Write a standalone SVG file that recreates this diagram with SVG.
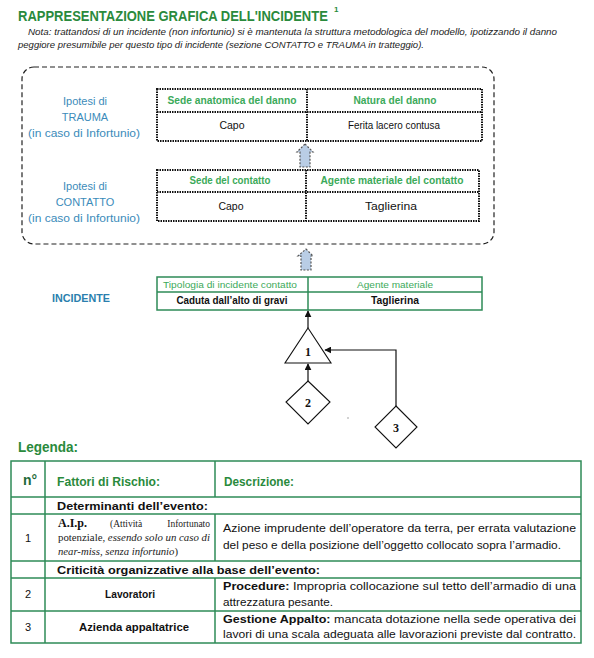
<svg xmlns="http://www.w3.org/2000/svg" width="594" height="658" viewBox="0 0 594 658">
<defs>
<style>
text{font-family:"Liberation Sans",Arial,sans-serif;fill:#111}
.ttl{font-size:13px;font-weight:bold;fill:#2a8a3c}
.note{font-size:9px;font-style:italic;fill:#222}
.lbl{font-size:11px;fill:#3b8bba;text-anchor:middle}
.hd{font-size:10px;font-weight:bold;fill:#3caa5a;text-anchor:middle}
.hd2{font-size:9px;fill:#3caa5a;text-anchor:middle}
.dt{font-size:10.5px;text-anchor:middle}
.dtb{font-size:10.5px;font-weight:bold;text-anchor:middle}
.dot{fill:#fff;stroke:#111;stroke-width:2;stroke-dasharray:1.5 1}
.grn{fill:none;stroke:#2e8b57;stroke-width:1.5}
.ft{fill:#fff;stroke:#111;stroke-width:1.1}
.num{font-family:"Liberation Serif",serif;font-size:12px;font-weight:bold;text-anchor:middle}
.con{fill:none;stroke:#111;stroke-width:1.2}
.blk{fill:#b9cde5;stroke:#555;stroke-width:1.2;stroke-dasharray:2 1.5}
.lg{font-size:11px}
.lgb{font-size:11.5px;font-weight:bold}
.sf{font-family:"Liberation Serif",serif;font-size:9.5px;fill:#222}
</style>
<marker id="ah" viewBox="0 0 10 10" refX="9" refY="5" markerWidth="7" markerHeight="7" orient="auto-start-reverse" markerUnits="userSpaceOnUse">
<path d="M0,0 L10,5 L0,10 Z" fill="#111"/>
</marker>
</defs>
<rect width="594" height="658" fill="#fff"/>

<g id="title">
<text class="ttl" x="18" y="21" transform="translate(0,-3.15) scale(1,1.15)">RAPPRESENTAZIONE GRAFICA DELL'INCIDENTE</text>
<text x="334" y="12" style="font-size:8px;font-weight:bold;fill:#2a8a3c">1</text>
</g>
<g id="note">
<text class="note" x="28" y="35" textLength="529" lengthAdjust="spacingAndGlyphs">Nota: trattandosi di un incidente (non infortunio) si è mantenuta la struttura metodologica del modello, ipotizzando il danno</text>
<text class="note" x="18" y="48" textLength="406" lengthAdjust="spacingAndGlyphs">peggiore presumibile per questo tipo di incidente (sezione CONTATTO e TRAUMA in tratteggio).</text>
</g>

<g id="ipotesi-box">
<rect x="22" y="67" width="472" height="177" rx="12" fill="none" stroke="#222" stroke-width="1.2" stroke-dasharray="5 3"/>
</g>

<g id="trauma-label">
<text class="lbl" x="85" y="105">Ipotesi di</text>
<text class="lbl" x="85" y="121">TRAUMA</text>
<text class="lbl" x="84" y="137" textLength="112" lengthAdjust="spacingAndGlyphs">(in caso di Infortunio)</text>
</g>
<g id="trauma-table">
<rect class="dot" x="157" y="89" width="325" height="52"/>
<line class="dot" x1="157" y1="112" x2="482" y2="112"/>
<line class="dot" x1="307" y1="89" x2="307" y2="141"/>
<text class="hd" x="232" y="104" textLength="129" lengthAdjust="spacingAndGlyphs">Sede anatomica del danno</text>
<text class="hd" x="395" y="104" textLength="83" lengthAdjust="spacingAndGlyphs">Natura del danno</text>
<text class="dt" x="232" y="129">Capo</text>
<text class="dt" x="394" y="129" textLength="92" lengthAdjust="spacingAndGlyphs">Ferita lacero contusa</text>
</g>

<g id="contatto-label">
<text class="lbl" x="85" y="190">Ipotesi di</text>
<text class="lbl" x="85" y="206">CONTATTO</text>
<text class="lbl" x="84" y="222" textLength="112" lengthAdjust="spacingAndGlyphs">(in caso di Infortunio)</text>
</g>
<g id="contatto-table">
<rect class="dot" x="157" y="170" width="322" height="51"/>
<line class="dot" x1="157" y1="192" x2="479" y2="192"/>
<line class="dot" x1="306" y1="170" x2="306" y2="221"/>
<text class="hd" x="230" y="184" textLength="81" lengthAdjust="spacingAndGlyphs">Sede del contatto</text>
<text class="hd" x="392" y="184" textLength="143" lengthAdjust="spacingAndGlyphs">Agente materiale del contatto</text>
<text class="dt" x="231" y="210">Capo</text>
<text class="dt" x="391" y="210" textLength="52" lengthAdjust="spacingAndGlyphs">Taglierina</text>
</g>

<g id="incidente">
<text x="81" y="302" style="font-size:11px;font-weight:bold;fill:#2b7fae;text-anchor:middle" textLength="58" lengthAdjust="spacingAndGlyphs">INCIDENTE</text>
<rect class="grn" x="157" y="277" width="325" height="33" fill="#fff"/>
<line class="grn" x1="157" y1="292" x2="482" y2="292"/>
<line class="grn" x1="308" y1="277" x2="308" y2="310"/>
<text class="hd2" x="230" y="288" textLength="134" lengthAdjust="spacingAndGlyphs">Tipologia di incidente contatto</text>
<text class="hd2" x="395" y="288" textLength="76" lengthAdjust="spacingAndGlyphs">Agente materiale</text>
<text class="dtb" x="232" y="304" textLength="111" lengthAdjust="spacingAndGlyphs">Caduta dall’alto di gravi</text>
<text class="dtb" x="395" y="304" textLength="48" lengthAdjust="spacingAndGlyphs">Taglierina</text>
</g>

<g id="connectors">
<path class="blk" d="M305,144 L313,152 L310,152 L310,167 L300,167 L300,152 L297,152 Z"/>
<path class="blk" d="M306,249 L313,256 L311,256 L311,270 L301,270 L301,256 L298,256 Z"/>
<line class="con" x1="308" y1="328" x2="308" y2="311" marker-end="url(#ah)"/>
<line class="con" x1="308" y1="381" x2="308" y2="364" marker-end="url(#ah)"/>
<polyline class="con" points="396,406 396,350 325,350" marker-end="url(#ah)"/>
</g>

<g id="node-1">
<polygon class="ft" points="308,328 331,363 285,363"/>
<text class="num" x="308" y="356">1</text>
</g>
<g id="node-2">
<polygon class="ft" points="308,381 330,402 308,424 286,402"/>
<text class="num" x="308" y="407">2</text>
</g>
<g id="node-3">
<polygon class="ft" points="396,406 417,427 396,448 375,427"/>
<text class="num" x="396" y="432">3</text>
</g>
<circle cx="348" cy="418" r="0.8" fill="#999"/>

<g id="legenda">
<text x="18" y="452" style="font-size:14px;font-weight:bold;fill:#2a8a3c" textLength="60" lengthAdjust="spacingAndGlyphs">Legenda:</text>
<g fill="none" stroke="#2e8b57" stroke-width="1.5">
<rect x="11" y="461" width="570" height="182"/>
<line x1="11" y1="497" x2="581" y2="497"/>
<line x1="11" y1="514" x2="581" y2="514"/>
<line x1="11" y1="561" x2="581" y2="561"/>
<line x1="11" y1="578" x2="581" y2="578"/>
<line x1="11" y1="611" x2="581" y2="611"/>
<line x1="45" y1="461" x2="45" y2="643"/>
<line x1="215" y1="461" x2="215" y2="497"/>
<line x1="215" y1="514" x2="215" y2="561"/>
<line x1="215" y1="578" x2="215" y2="643"/>
</g>
<text x="30" y="485" style="font-size:14px;font-weight:bold;fill:#1f6b3a;text-anchor:middle">n°</text>
<text x="57" y="486" style="font-size:12px;font-weight:bold;fill:#2a8a3c" textLength="103" lengthAdjust="spacingAndGlyphs">Fattori di Rischio:</text>
<text x="224" y="486" style="font-size:12px;font-weight:bold;fill:#2a8a3c" textLength="70" lengthAdjust="spacingAndGlyphs">Descrizione:</text>
<text class="lgb" x="57" y="510" textLength="151" lengthAdjust="spacingAndGlyphs">Determinanti dell’evento:</text>
<text class="lg" x="28" y="542" style="text-anchor:middle">1</text>
<text x="58" y="527" style="font-family:'Liberation Serif',serif;font-size:12px;font-weight:bold">A.I.p.</text>
<text class="sf" x="110" y="527">(Attività</text>
<text class="sf" x="210" y="527" style="text-anchor:end">Infortunato</text>
<text class="sf" x="58" y="541" textLength="152" lengthAdjust="spacingAndGlyphs">potenziale, <tspan font-style="italic">essendo solo un caso di</tspan></text>
<text class="sf" x="58" y="555" textLength="120" lengthAdjust="spacingAndGlyphs"><tspan font-style="italic">near-miss, senza infortunio</tspan>)</text>
<text class="lg" x="223" y="532" textLength="353" lengthAdjust="spacingAndGlyphs">Azione imprudente dell’operatore da terra, per errata valutazione</text>
<text class="lg" x="223" y="549" textLength="338" lengthAdjust="spacingAndGlyphs">del peso e della posizione dell’oggetto collocato sopra l’armadio.</text>
<text class="lgb" x="57" y="574" textLength="263" lengthAdjust="spacingAndGlyphs">Criticità organizzative alla base dell’evento:</text>
<text class="lg" x="28" y="598" style="text-anchor:middle">2</text>
<text class="lg" x="130" y="598" style="font-weight:bold;text-anchor:middle" textLength="50" lengthAdjust="spacingAndGlyphs">Lavoratori</text>
<text class="lg" x="223" y="590" textLength="353" lengthAdjust="spacingAndGlyphs"><tspan font-weight="bold">Procedure:</tspan> Impropria collocazione sul tetto dell’armadio di una</text>
<text class="lg" x="223" y="606" textLength="110" lengthAdjust="spacingAndGlyphs">attrezzatura pesante.</text>
<text class="lg" x="28" y="631" style="text-anchor:middle">3</text>
<text class="lg" x="134" y="631" style="font-weight:bold;text-anchor:middle" textLength="110" lengthAdjust="spacingAndGlyphs">Azienda appaltatrice</text>
<text class="lg" x="223" y="623" textLength="353" lengthAdjust="spacingAndGlyphs"><tspan font-weight="bold">Gestione Appalto:</tspan> mancata dotazione nella sede operativa dei</text>
<text class="lg" x="223" y="638" textLength="353" lengthAdjust="spacingAndGlyphs">lavori di una scala adeguata alle lavorazioni previste dal contratto.</text>
</g>
</svg>
